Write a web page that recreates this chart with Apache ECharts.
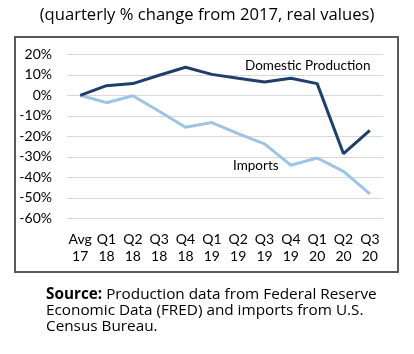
<!DOCTYPE html>
<html>
<head>
<meta charset="utf-8">
<script src="https://cdn.jsdelivr.net/npm/echarts@6/dist/echarts.min.js"></script>
<style>html,body{margin:0;padding:0;background:#fff}#c{width:414px;height:354px}</style>
</head>
<body>
<div id="c"></div>
<script>
var categories = ['Avg\n17','Q1\n18','Q2\n18','Q3\n18','Q4\n18','Q1\n19','Q2\n19','Q3\n19','Q4\n19','Q1\n20','Q2\n20','Q3\n20'];
var domestic = [0, 4.7, 5.7, 9.8, 13.7, 10.2, 8.3, 6.5, 8.3, 5.7, -28.5, -17.1];
var imports = [0, -3.6, -0.2, -7.8, -15.6, -13.3, -18.7, -23.7, -34.1, -30.6, -37.1, -48.1];
var yMin = -60, yMax = 20, yStep = 10;

var FONT = 'Lato, "Open Sans", sans-serif';
var FONT2 = '"Open Sans", Lato, sans-serif';
var chart = echarts.init(document.getElementById('c'), null, {renderer: 'canvas'});
chart.setOption({
  backgroundColor: '#fff',
  animation: false,
  grid: {left: 67, right: 31, top: 54.3, bottom: 135.7},
  xAxis: {
    type: 'category', data: categories, boundaryGap: true,
    axisLine: {show: false}, axisTick: {show: false},
    axisLabel: {color: '#000', fontFamily: FONT, fontSize: 14, lineHeight: 17, margin: 13, interval: 0}
  },
  yAxis: {
    type: 'value', min: yMin, max: yMax, interval: yStep,
    axisLine: {show: false}, axisTick: {show: false},
    splitLine: {lineStyle: {color: '#d9d9d9', width: 1}},
    axisLabel: {color: '#000', fontFamily: FONT, fontSize: 14, margin: 15, formatter: function(v){return v + '%';}}
  },
  series: [
    {type: 'line', name: 'Domestic Production', data: domestic, symbol: 'none', lineStyle: {color: '#1f3f6b', width: 3}, z: 3},
    {type: 'line', name: 'Imports', data: imports, symbol: 'none', lineStyle: {color: '#9dc3e6', width: 3}, z: 2}
  ],
  graphic: [
    {type: 'rect', shape: {x: 15, y: 37, width: 383, height: 235}, style: {fill: 'none', stroke: '#595959', lineWidth: 2}, z: -1},
    {type: 'text', left: 'center', top: 7, style: {text: '(quarterly % change from 2017, real values)', font: '16.6px ' + FONT2, fill: '#000'}},
    {type: 'text', x: 245, y: 59, style: {text: 'Domestic Production', font: '13.5px ' + FONT, fill: '#000'}},
    {type: 'text', x: 233, y: 159, style: {text: 'Imports', font: '13.5px ' + FONT, fill: '#000'}},
    {type: 'text', x: 46, y: 287, style: {
      text: '{b|Source:} Production data from Federal Reserve\nEconomic Data (FRED) and imports from U.S.\nCensus Bureau.',
      font: '15.3px ' + FONT2, fill: '#000', lineHeight: 16,
      rich: {b: {font: 'bold 15.3px ' + FONT2, fill: '#000', lineHeight: 16}}
    }}
  ]
});
</script>
</body>
</html>
